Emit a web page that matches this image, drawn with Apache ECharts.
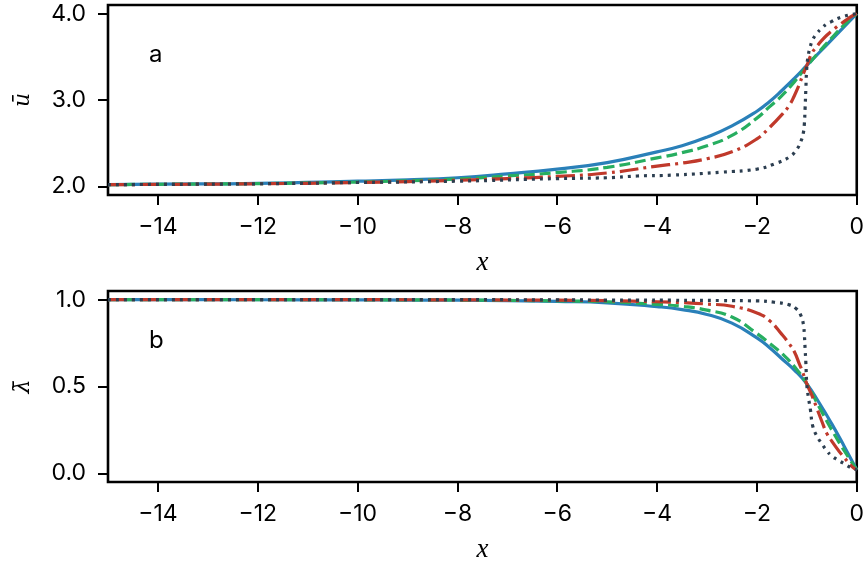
<!DOCTYPE html>
<html>
<head>
<meta charset="utf-8">
<title>u and lambda profiles</title>
<script src="https://cdn.jsdelivr.net/npm/echarts@6/dist/echarts.min.js"></script>
<style>
  html, body { margin: 0; padding: 0; background: #fff; }
  #chart { width: 867px; height: 565px; }
</style>
</head>
<body>
<div id="chart"></div>
<script>
// x samples (smooth curves, and denser ones near the front at x = -1)
var xSmooth = [-15, -14, -12, -10, -9, -8, -7, -6, -5, -4, -3.5, -3, -2.5, -2, -1.75, -1.5, -1.25, -1, -0.75, -0.5, -0.25, 0];
var xRed = [-15, -12, -10, -8, -7, -6, -5, -4, -3.5, -3, -2.5, -2, -1.75, -1.5, -1.35, -1.25, -1.15, -1.1, -1, -0.9, -0.8, -0.7, -0.6, -0.5, -0.35, -0.25, -0.1, 0];
var xDot = [-15, -12, -10, -8, -6, -5, -4.4, -3.7, -2.7, -2, -1.65, -1.35, -1.2, -1.12, -1.07, -1.05, -1.035, -1.02, -1, -0.97, -0.93, -0.88, -0.8, -0.7, -0.6, -0.5, -0.4, -0.25, -0.1, 0];

// panel a : u bar
var uBlue  = [2.02, 2.025, 2.035, 2.06, 2.075, 2.10, 2.145, 2.20, 2.275, 2.40, 2.47, 2.57, 2.70, 2.87, 2.98, 3.11, 3.25, 3.40, 3.55, 3.70, 3.85, 4.0];
var uGreen = [2.02, 2.024, 2.032, 2.05, 2.065, 2.085, 2.12, 2.16, 2.22, 2.33, 2.39, 2.47, 2.59, 2.79, 2.92, 3.05, 3.21, 3.39, 3.56, 3.72, 3.87, 4.0];
var uRed   = [2.02, 2.03, 2.045, 2.07, 2.09, 2.115, 2.155, 2.235, 2.27, 2.32, 2.40, 2.55, 2.68, 2.83, 2.94, 3.05, 3.18, 3.26, 3.40, 3.54, 3.62, 3.69, 3.75, 3.80, 3.87, 3.91, 3.97, 4.0];
var uDot   = [2.02, 2.03, 2.045, 2.06, 2.09, 2.10, 2.12, 2.13, 2.165, 2.20, 2.26, 2.34, 2.43, 2.52, 2.62, 2.72, 2.90, 3.12, 3.38, 3.52, 3.62, 3.70, 3.77, 3.83, 3.88, 3.91, 3.94, 3.97, 3.99, 4.0];

// panel b : lambda bar
var lBlue  = [1.0, 1.0, 0.9995, 0.999, 0.998, 0.997, 0.994, 0.99, 0.982, 0.96, 0.943, 0.915, 0.865, 0.78, 0.725, 0.66, 0.595, 0.515, 0.405, 0.285, 0.155, 0.02];
var lGreen = [1.0, 1.0, 1.0, 0.9995, 0.999, 0.998, 0.996, 0.993, 0.988, 0.973, 0.962, 0.94, 0.90, 0.805, 0.75, 0.69, 0.615, 0.515, 0.38, 0.25, 0.13, 0.02];
var lRed   = [1.0, 1.0, 1.0, 0.999, 0.998, 0.997, 0.994, 0.988, 0.983, 0.975, 0.962, 0.923, 0.88, 0.80, 0.745, 0.70, 0.63, 0.595, 0.515, 0.45, 0.375, 0.30, 0.23, 0.185, 0.125, 0.09, 0.04, 0.02];
var lDot   = [1.0, 1.0, 1.0, 1.0, 0.999, 0.998, 0.998, 0.997, 0.995, 0.993, 0.985, 0.97, 0.945, 0.91, 0.86, 0.80, 0.72, 0.64, 0.51, 0.44, 0.37, 0.27, 0.215, 0.17, 0.13, 0.10, 0.08, 0.055, 0.03, 0.02];

var xTicks = [-14, -12, -10, -8, -6, -4, -2, 0];
var uTicks = [2, 3, 4];
var lTicks = [0, 0.5, 1];

var colors = { blue: '#2a80b9', green: '#27ae60', red: '#c0392b', dark: '#2c3e50' };
var tickFont = { fontFamily: 'Inter, Liberation Sans, Arial, sans-serif', fontSize: 23, color: '#000' };

function pairs(xs, ys) {
  return xs.map(function (x, i) { return [x, ys[i]]; });
}

function xAxisFor(idx) {
  return {
    type: 'value', gridIndex: idx, min: -15, max: 0,
    name: 'x', nameLocation: 'middle', nameGap: 54,
    nameTextStyle: { fontFamily: 'Liberation Serif, Times New Roman, serif', fontStyle: 'italic', fontSize: 27, color: '#000' },
    axisLine: { show: false, onZero: false },
    splitLine: { show: false },
    axisTick: { show: true, length: 10, customValues: xTicks, lineStyle: { color: '#000', width: 2 } },
    axisLabel: Object.assign({
      customValues: xTicks, margin: 21,
      formatter: function (v) { return v < 0 ? '\u2212' + Math.abs(v) : String(v); }
    }, tickFont)
  };
}

function yAxisFor(idx, min, max, ticks, name) {
  return {
    type: 'value', gridIndex: idx, min: min, max: max,
    name: name, nameLocation: 'middle', nameRotate: 90, nameGap: 74,
    nameTextStyle: { fontFamily: 'DejaVu Serif, Liberation Serif, serif', fontStyle: 'italic', fontSize: 22, color: '#000' },
    axisLine: { show: false, onZero: false },
    splitLine: { show: false },
    axisTick: { show: true, length: 10, customValues: ticks, lineStyle: { color: '#000', width: 2 } },
    axisLabel: Object.assign({
      customValues: ticks, margin: 22,
      formatter: function (v) { return v.toFixed(1); }
    }, tickFont)
  };
}

function line(idx, data, color, type) {
  return {
    type: 'line', xAxisIndex: idx, yAxisIndex: idx, data: data,
    showSymbol: false, smooth: true,
    lineStyle: { color: color, width: 3.2, type: type, cap: 'butt' },
    animation: false, z: 2
  };
}

var chart = echarts.init(document.getElementById('chart'), null, { renderer: 'canvas' });

var option = {
  animation: false,
  backgroundColor: '#fff',
  title: [
    { text: 'a', left: 144, top: 38, textStyle: { fontFamily: 'Inter, Liberation Sans, Arial, sans-serif', fontWeight: 'normal', fontSize: 24, color: '#000' } },
    { text: 'b', left: 144, top: 324, textStyle: { fontFamily: 'Inter, Liberation Sans, Arial, sans-serif', fontWeight: 'normal', fontSize: 24, color: '#000' } }
  ],
  grid: [
    { left: 108, top: 5, width: 750, height: 190, show: true, borderColor: '#000', borderWidth: 2.6, backgroundColor: 'transparent' },
    { left: 108, top: 291, width: 750, height: 191, show: true, borderColor: '#000', borderWidth: 2.6, backgroundColor: 'transparent' }
  ],
  xAxis: [xAxisFor(0), xAxisFor(1)],
  yAxis: [
    yAxisFor(0, 1.9, 4.1, uTicks, '\u016B'),
    yAxisFor(1, -0.05, 1.05, lTicks, '\u03BB\u0304')
  ],
  series: [
    line(0, pairs(xSmooth, uBlue), colors.blue, 'solid'),
    line(0, pairs(xSmooth, uGreen), colors.green, [11, 5]),
    line(0, pairs(xRed, uRed), colors.red, [19, 5, 3, 5]),
    line(0, pairs(xDot, uDot), colors.dark, [3, 5]),
    line(1, pairs(xSmooth, lBlue), colors.blue, 'solid'),
    line(1, pairs(xSmooth, lGreen), colors.green, [11, 5]),
    line(1, pairs(xRed, lRed), colors.red, [19, 5, 3, 5]),
    line(1, pairs(xDot, lDot), colors.dark, [3, 5])
  ]
};
chart.setOption(option);
</script>
</body>
</html>
